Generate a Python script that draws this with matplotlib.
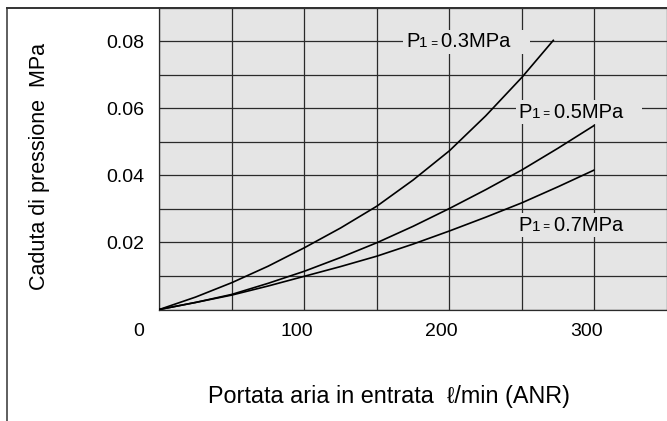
import numpy as np
import matplotlib
matplotlib.use("Agg")
import matplotlib.pyplot as plt
from matplotlib.lines import Line2D
from matplotlib.transforms import ScaledTranslation

plt.rcParams['font.family'] = ['Liberation Sans', 'DejaVu Sans']

# ---- data ----
flow_03 = [0, 25, 50, 75, 100, 125, 150, 175, 200, 225, 250, 272]
drop_03 = [0, 0.0037, 0.0080, 0.0129, 0.0184, 0.0243, 0.0308, 0.0386, 0.0473, 0.0577, 0.0692, 0.0804]

flow_05 = [0, 25, 50, 75, 100, 125, 150, 175, 200, 225, 250, 275, 300]
drop_05 = [0, 0.0021, 0.0045, 0.0078, 0.0114, 0.0155, 0.0199, 0.0248, 0.0301, 0.0357, 0.0416, 0.0481, 0.0549]

flow_07 = [0, 25, 50, 75, 100, 125, 150, 175, 200, 225, 250, 275, 300]
drop_07 = [0, 0.0021, 0.0043, 0.0070, 0.0099, 0.0128, 0.0159, 0.0195, 0.0234, 0.0275, 0.0318, 0.0366, 0.0416]

pressures = ["0.3MPa", "0.5MPa", "0.7MPa"]
label_pos = [(170.0, 0.0781), (247.5, 0.0572), (247.5, 0.0235)]

x_ticks = [0, 100, 200, 300]
y_ticks = [0.02, 0.04, 0.06, 0.08]
y_tick_labels = ["0.02", "0.04", "0.06", "0.08"]
x_label = "Portata aria in entrata  \u2113/min (ANR)"
y_label = "Caduta di pressione  MPa"

W, H = 667, 421
bg = "#e5e5e5"
gridc = "#2a2a2a"

fig = plt.figure(figsize=(W / 100, H / 100), dpi=100)
ax = fig.add_axes([159.3 / W, 1 - 309.5 / H, 1 - 159.3 / W, (309.5 - 7.5) / H])
ax.set_facecolor(bg)
ax.set_xlim(0, 345.6)
ax.set_ylim(0, 0.0899)

ax.set_xticks(x_ticks)
ax.set_xticklabels([str(v) for v in x_ticks])
ax.set_xticks(np.arange(0, 351, 50), minor=True)
ax.set_yticks(y_ticks)
ax.set_yticklabels(y_tick_labels)
ax.set_yticks(np.arange(0, 0.0901, 0.01), minor=True)
ax.tick_params(which='both', length=0)
ax.tick_params(axis='x', pad=10, labelsize=14)
ax.tick_params(axis='y', pad=11, labelsize=14)
ax.grid(which='both', color=gridc, linewidth=0.9)
ax.set_axisbelow(True)

ax.spines['right'].set_visible(False)
for s in ['left', 'bottom', 'top']:
    ax.spines[s].set_color(gridc)
    ax.spines[s].set_linewidth(0.9)
ax.spines['top'].set_linewidth(1.4)

# shift x tick labels left like the reference
for lab, val in zip(ax.get_xticklabels(), x_ticks):
    dx = -21 if val == 0 else -8
    lab.set_transform(lab.get_transform() + ScaledTranslation(dx / 100, 0, fig.dpi_scale_trans))

# curves
for fx, dy in [(flow_03, drop_03), (flow_05, drop_05), (flow_07, drop_07)]:
    ax.plot(fx, dy, color='black', lw=1.2, zorder=3, solid_capstyle='butt')

# curve labels "P1 = x.xMPa": first pass draws background boxes, second pass the text
box = dict(boxstyle='square,pad=0.12', fc=bg, ec='none')
DESC = 0.21
BIG = 14.5


def draw_label(lx, ly, ptxt, with_box):
    kw = dict(color='none', bbox=box, zorder=2.4) if with_box else dict(color='black', zorder=2.6)
    t = ax.text(lx, ly, "P", fontsize=BIG, va='baseline', ha='left', **kw)
    prev = t
    for s, size in [("1", 11), (" = ", 8.5), (ptxt + "   ", BIG)]:
        prev = ax.annotate(s, xy=(1, 0), xycoords=(prev, t), xytext=(0, DESC * (BIG - size)),
                           textcoords='offset points', fontsize=size, va='bottom', ha='left', **kw)


for (lx, ly), ptxt in zip(label_pos, pressures):
    draw_label(lx, ly, ptxt, True)
    draw_label(lx, ly, ptxt, False)

# axis labels
fig.text(40 / W, 1 - 166 / H, y_label, rotation=90, ha='center', va='center', fontsize=15.5)
fig.text(389 / W, 1 - 396 / H, x_label, ha='center', va='center', fontsize=16.8)

# outer frame
fig.add_artist(Line2D([6.5 / W, 6.5 / W], [0, 1 - 7.5 / H], color='#333333', lw=1.1, transform=fig.transFigure))
fig.add_artist(Line2D([6.5 / W, 1], [1 - 7.5 / H, 1 - 7.5 / H], color='#333333', lw=1.4, transform=fig.transFigure))

fig.savefig("out.png", dpi=100)
